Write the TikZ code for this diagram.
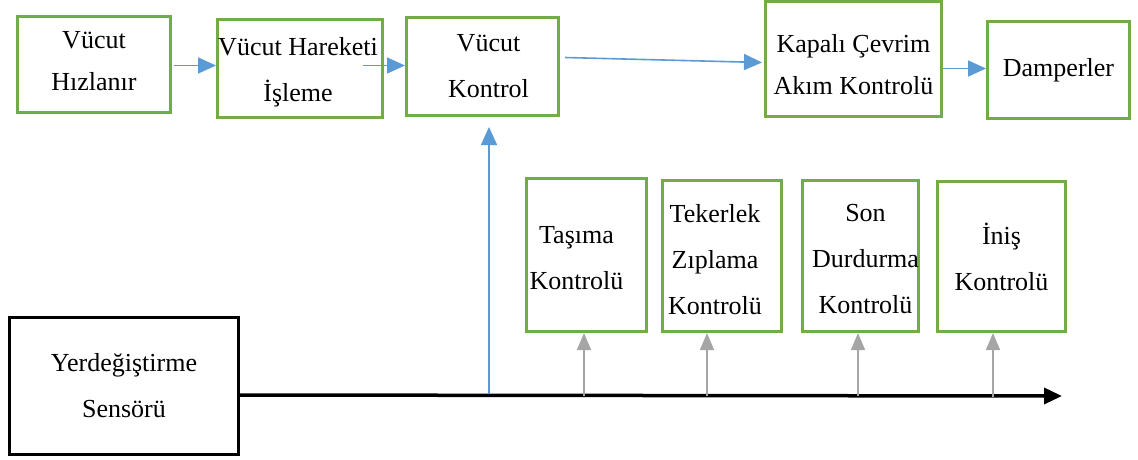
\documentclass[tikz,border=0pt]{standalone}
\usepackage{fontspec}
\setmainfont{Liberation Serif}
\usetikzlibrary{arrows.meta,calc}
\definecolor{boxgreen}{RGB}{112,173,71}
\definecolor{flowblue}{RGB}{91,155,213}
\definecolor{feedgray}{RGB}{165,165,165}
\begin{document}
\begin{tikzpicture}[x=1pt,y=-1pt,
  every node/.style={font=\fontsize{26}{46}\selectfont, align=center, inner sep=0pt},
  gbox/.style={draw=boxgreen, line width=3pt, anchor=north west},
  kbox/.style={draw=black, line width=3pt, anchor=north west},
  blueflow/.style={draw=flowblue, line width=1.6pt, -{Triangle[length=18pt,width=16pt]}},
  grayflow/.style={draw=feedgray, line width=1.5pt, -{Triangle[length=17pt,width=14pt]}},
  axisline/.style={draw=black, line width=3.5pt, -{Triangle[length=18pt,width=16pt]}}]
\useasboundingbox (0,0) rectangle (1138,459);

% top chain
\node[gbox, minimum width=153pt, minimum height=96pt,
  label={[name=t1, yshift=3pt]center:Vücut\\[-4pt]Hızlanır}] (b1) at (16,15) {};
\node[gbox, minimum width=165pt, minimum height=98pt,
  label={[name=t2, xshift=-2pt, yshift=-4pt]center:Vücut Hareketi\\İşleme}] (b2) at (216,18) {};
\node[gbox, minimum width=152pt, minimum height=98pt,
  label={[name=t3, xshift=6pt]center:Vücut\\Kontrol}] (b3) at (405,16) {};
\node[gbox, minimum width=176pt, minimum height=115pt,
  label={[name=t4, yshift=-6pt]center:Kapalı Çevrim\\[-4pt]Akım Kontrolü}] (b4) at (764,0) {};
\node[gbox, minimum width=142pt, minimum height=97pt,
  label={[name=t5]center:Damperler}] (b5) at (986,20) {};

% lower control blocks
\node[gbox, minimum width=120pt, minimum height=153pt,
  label={[name=u1, xshift=-10pt, yshift=-3pt]center:Taşıma\\Kontrolü}] (c1) at (525,177) {};
\node[gbox, minimum width=119pt, minimum height=151pt,
  label={[name=u2, xshift=-7pt, yshift=-4pt]center:Tekerlek\\Zıplama\\Kontrolü}] (c2) at (661,179) {};
\node[gbox, minimum width=116pt, minimum height=151pt,
  label={[name=u3, xshift=5pt, yshift=-3pt]center:Son\\Durdurma\\Kontrolü}] (c3) at (801,179) {};
\node[gbox, minimum width=128pt, minimum height=150pt,
  label={[name=u4]center:İniş\\Kontrolü}] (c4) at (936,180) {};

% sensor
\node[kbox, minimum width=229pt, minimum height=137pt,
  label={[name=ts]center:Yerdeğiştirme\\Sensörü}] (s) at (8,316) {};

% signal line from the sensor
\coordinate (axend) at (1062,396);
\draw[axisline] ($(s.east)+(0,9)$) -- (axend);

\coordinate (tapb) at (489,394);
\coordinate (tap1) at (584,396);
\coordinate (tap2) at (707,396);
\coordinate (tap3) at (858,396);
\coordinate (tap4) at (993,397);

% forward flow
\draw[blueflow] ($(b1.east)+(2,1)$) -- (b2.west |- {$(b1.east)+(2,1)$});
\draw[blueflow] ($(b2.east)+(-21,-3)$) -- ($(b3.west)+(0,-1)$);
\draw[blueflow] ($(b3.east)+(5,-9)$) -- ($(b4.west)+(-2,3.5)$);
\draw[blueflow] ($(b4.east)+(0,9.5)$) -- ($(b5.west)+(0,-1.5)$);
\draw[blueflow] (tapb) -- ($(tapb |- b3.south)+(0,10)$);

% feedback taps
\draw[grayflow] (tap1) -- (tap1 |- c1.south);
\draw[grayflow] (tap2) -- (tap2 |- c2.south);
\draw[grayflow] (tap3) -- (tap3 |- c3.south);
\draw[grayflow] (tap4) -- (tap4 |- c4.south);
\end{tikzpicture}
\end{document}
